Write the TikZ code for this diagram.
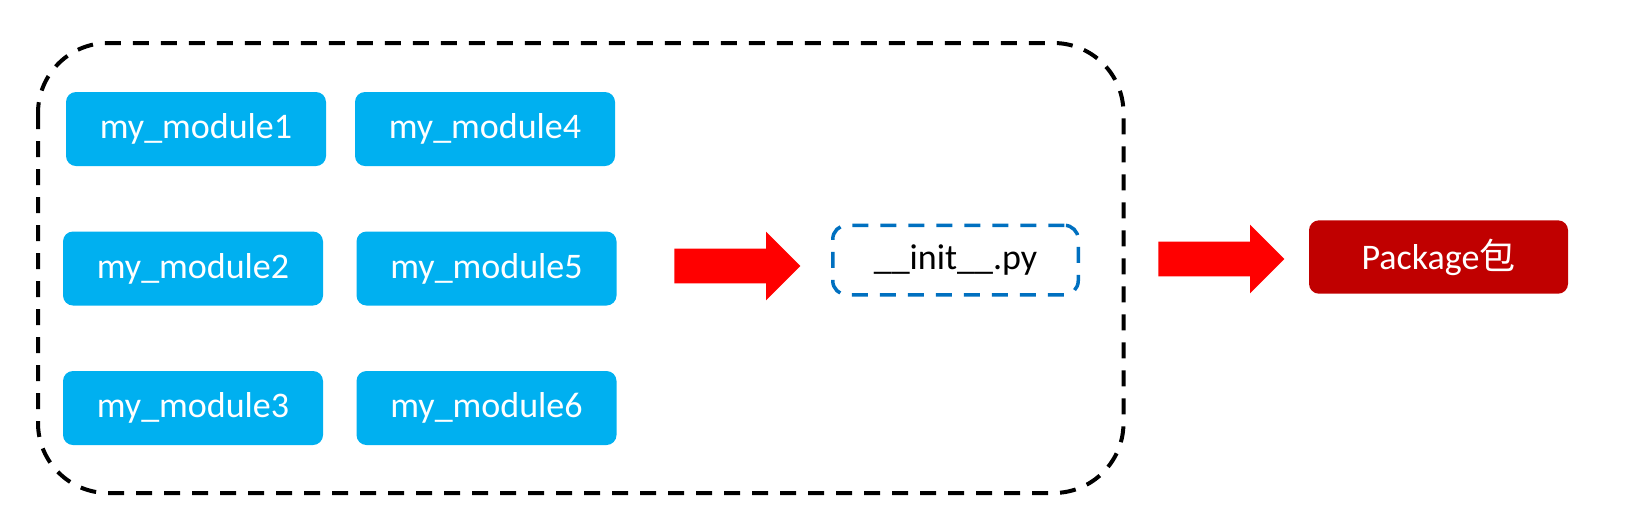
\documentclass[tikz,border=0pt]{standalone}
\usepackage{fontspec}
\setmainfont{Carlito}
\newfontfamily\cjk{Noto Sans CJK SC}
\usetikzlibrary{shapes.arrows}
\definecolor{modblue}{HTML}{00B0F0}
\definecolor{initblue}{HTML}{0070C0}
\definecolor{pkgred}{HTML}{C00000}

\begin{document}
\begin{tikzpicture}[x=0.5pt,y=-0.5pt,
    font=\fontsize{18}{22}\selectfont,
    modbox/.style={fill=modblue,text=white,rounded corners=5pt,
      minimum width=130pt,minimum height=37pt,inner sep=0pt},
    initbox/.style={draw=initblue,line width=1.75pt,dash pattern=on 8pt off 6pt,
      rounded corners=7pt,minimum width=122.75pt,minimum height=34.75pt,inner sep=0pt},
    pkgbox/.style={fill=pkgred,text=white,rounded corners=5pt,
      minimum width=129.5pt,minimum height=36.7pt,inner sep=0pt},
    bigarrow/.style={single arrow,fill=red,inner xsep=0pt,inner ysep=8.5pt,
      minimum height=63pt,single arrow head extend=8.5pt,anchor=tail}]
                    \useasboundingbox (0,0) rectangle (1628,527);
                    \coordinate (O1) at (38,43);
                    \coordinate (O2) at (1123.5,493);
                    \draw[line width=2pt,dash pattern=on 8pt off 6pt,rounded corners=35pt] (O1) rectangle (O2);
                    \node[modbox] (M1) at (196,129) {my\_module1};
                    \node[modbox] (M4) at (485,129) {my\_module4};
                    \node[modbox] (M2) at (193,268.5) {my\_module2};
                    \node[modbox] (M5) at (486.5,268.5) {my\_module5};
                    \node[modbox] (M3) at (193,408) {my\_module3};
                    \node[modbox] (M6) at (486.5,408) {my\_module6};
                    \node[bigarrow] (a1) at (674,266) {};
                    \node[initbox] (I) at (955.5,260) {\_\_init\_\_.py};
                    \node[bigarrow] (a2) at (1158,259) {};
                    \node[pkgbox] (P) at (1438.5,257) {Package{\cjk 包}};
                \end{tikzpicture}
\end{document}
